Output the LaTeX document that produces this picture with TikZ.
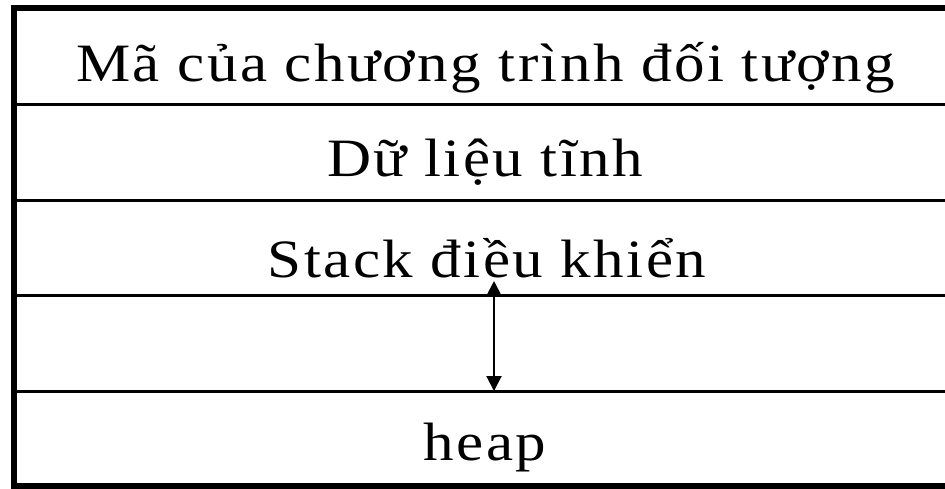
\documentclass[tikz,border=0pt]{standalone}
\usepackage{fontspec}
\setmainfont{Liberation Serif}[FakeStretch=1.13,LetterSpace=4.5]
\usetikzlibrary{arrows.meta}
\begin{document}
\begin{tikzpicture}[x=1pt,y=-1pt,
  frame/.style={line width=6pt},
  divider/.style={line width=3pt},
  label/.style={anchor=base,inner sep=0pt,font=\fontsize{54}{60}\selectfont},
  growth/.style={line width=2pt,{Triangle[width=15pt,length=15pt]}-{Triangle[width=15pt,length=15pt]}}]
  \useasboundingbox (0,0) rectangle (945,488);
  % memory layout frame and section dividers
  \draw[frame] (14,8) rectangle (957,486);
  \draw[divider] (14,104.5) -- (957,104.5);
  \draw[divider] (14,200.3) -- (957,200.3);
  \draw[divider] (14,295.7) -- (957,295.7);
  \draw[divider] (14,391) -- (957,391);
  % section labels
  \node[label] (code)  at (485.5,81)  {Mã của chương trình đối tượng};
  \node[label] (data)  at (485,176.7) {Dữ liệu tĩnh};
  \node[label] (stack) at (487,277.5) {Stack điều khiển};
  \node[label] (heap)  at (485,460)   {heap};
  % free space shared by stack and heap
  \coordinate (stacktop) at (494,281);
  \coordinate (heaptop)  at (494,391);
  \draw[growth] (stacktop) -- (heaptop);
\end{tikzpicture}
\end{document}
